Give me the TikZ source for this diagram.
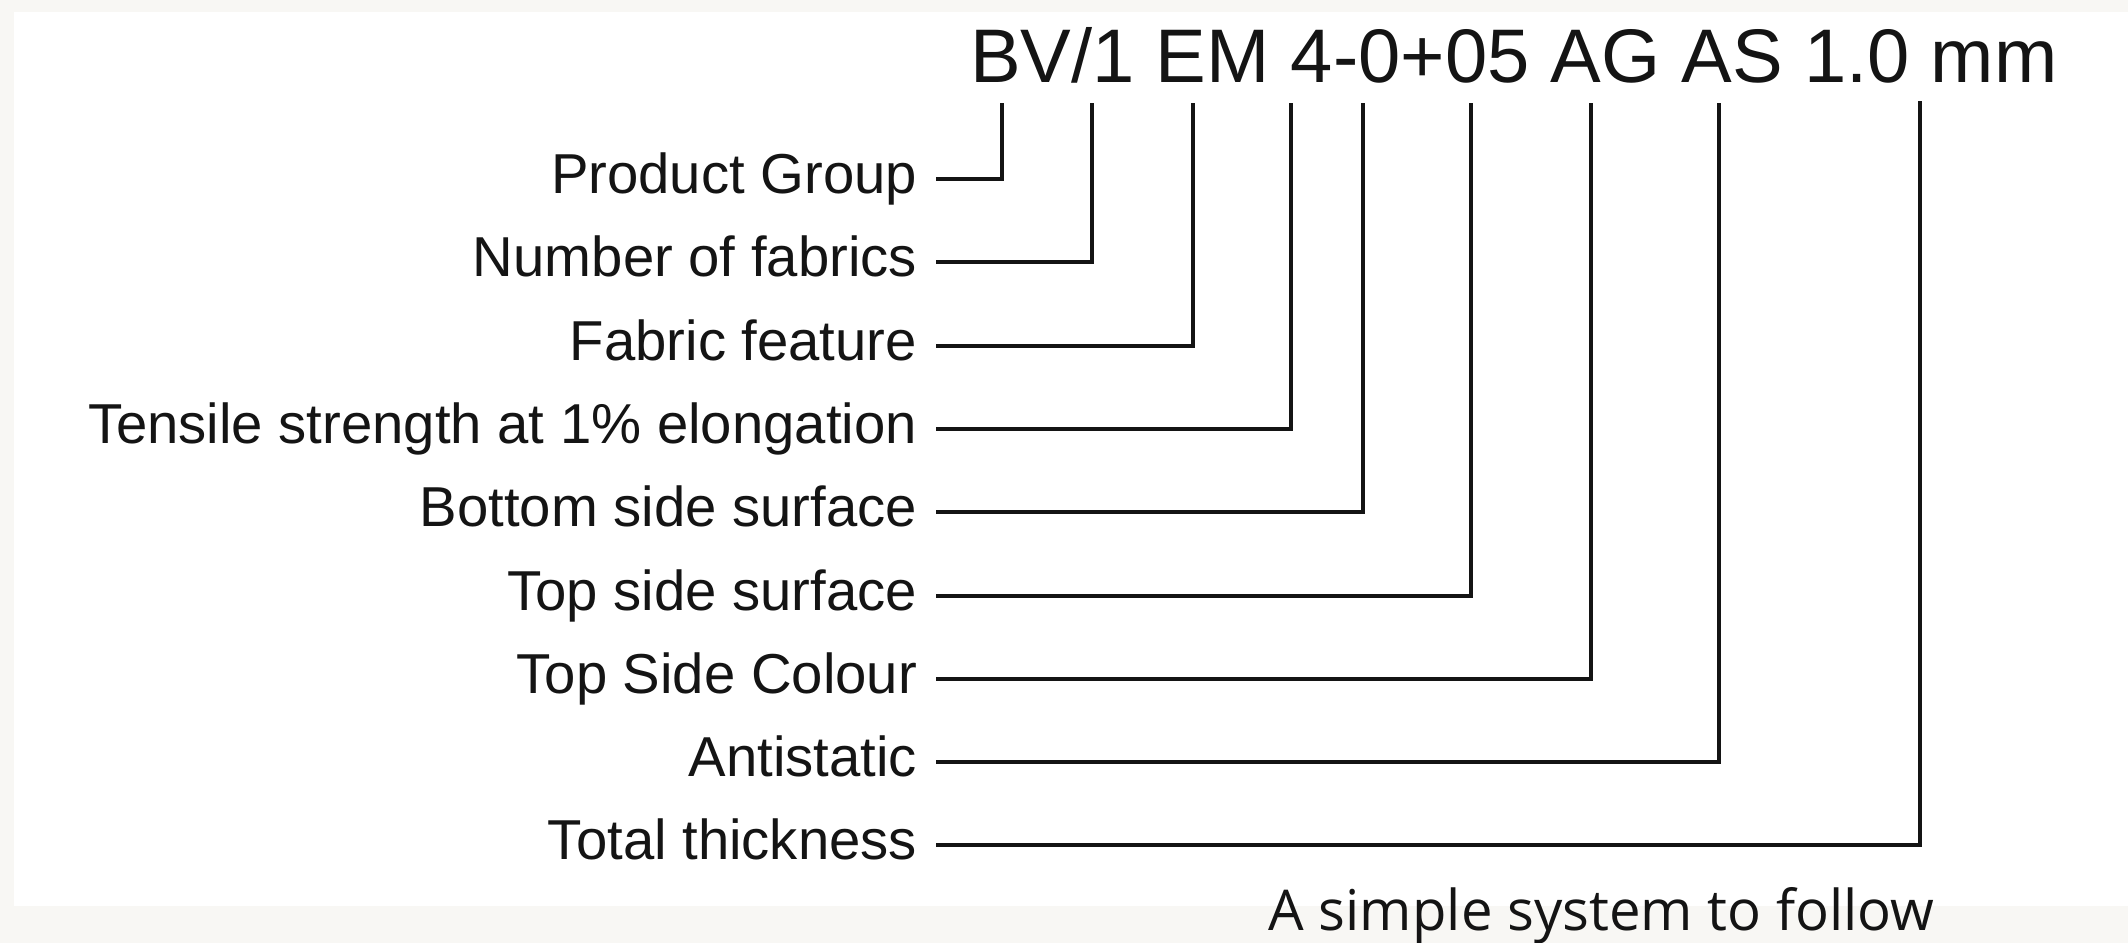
\documentclass[tikz,border=0pt]{standalone}
\usepackage{fontspec}
\setmainfont{Liberation Sans}
\newfontfamily\capfont{Open Sans}
\usepackage{tikz}
\usetikzlibrary{positioning}
\definecolor{ink}{RGB}{20,20,20}
\definecolor{paper}{RGB}{248,247,244}

\begin{document}
\begin{tikzpicture}[x=0.01cm, y=-0.01cm,
    label/.style={anchor=east, inner xsep=0pt, outer xsep=0.19cm, inner ysep=0pt,
          text height=11pt, text depth=3pt, text=ink, font=\fontsize{16}{19}\selectfont},
    lead/.style={line width=1.4pt, ink}]
    \useasboundingbox (0,0) rectangle (2128,943);
    \fill[paper] (0,0) rectangle (2128,943);
    \fill[white] (14,12) rectangle (2128,906);
    \node[anchor=base east, inner sep=0pt, text=ink, font=\fontsize{21.6}{26}\selectfont]
          (code) at (2058,83) {BV/1 EM 4-0+05 AG AS 1.0 mm};
    \coordinate (tGroup) at (1002,103);
    \coordinate (tNumber) at (1092,103);
    \coordinate (tFeature) at (1193,103);
    \coordinate (tTensile) at (1291,103);
    \coordinate (tBottom) at (1363,103);
    \coordinate (tTop) at (1471,103);
    \coordinate (tColour) at (1591,103);
    \coordinate (tStatic) at (1719,103);
    \coordinate (tThick) at (1920,101);
    \node[label] (group) at (936,179) {Product Group};
    \node[label] (number) at (936,262) {Number of fabrics};
    \node[label] (feature) at (936,346) {Fabric feature};
    \node[label] (tensile) at (936,429) {Tensile strength at 1\% elongation};
    \node[label] (bottom) at (936,512) {Bottom side surface};
    \node[label] (top) at (936,596) {Top side surface};
    \node[label] (colour) at (936,679) {Top Side Colour};
    \node[label] (static) at (936,762) {Antistatic};
    \node[label] (thick) at (936,845) {Total thickness};
    \draw[lead] (group.east) -| (tGroup);
    \draw[lead] (number.east) -| (tNumber);
    \draw[lead] (feature.east) -| (tFeature);
    \draw[lead] (tensile.east) -| (tTensile);
    \draw[lead] (bottom.east) -| (tBottom);
    \draw[lead] (top.east) -| (tTop);
    \draw[lead] (colour.east) -| (tColour);
    \draw[lead] (static.east) -| (tStatic);
    \draw[lead] (thick.east) -| (tThick);
    \node[anchor=base west, inner sep=0pt, text=ink, font=\capfont\fontsize{16}{19}\selectfont]
          (caption) at (1268,930) {A simple system to follow};
\end{tikzpicture}
\end{document}
